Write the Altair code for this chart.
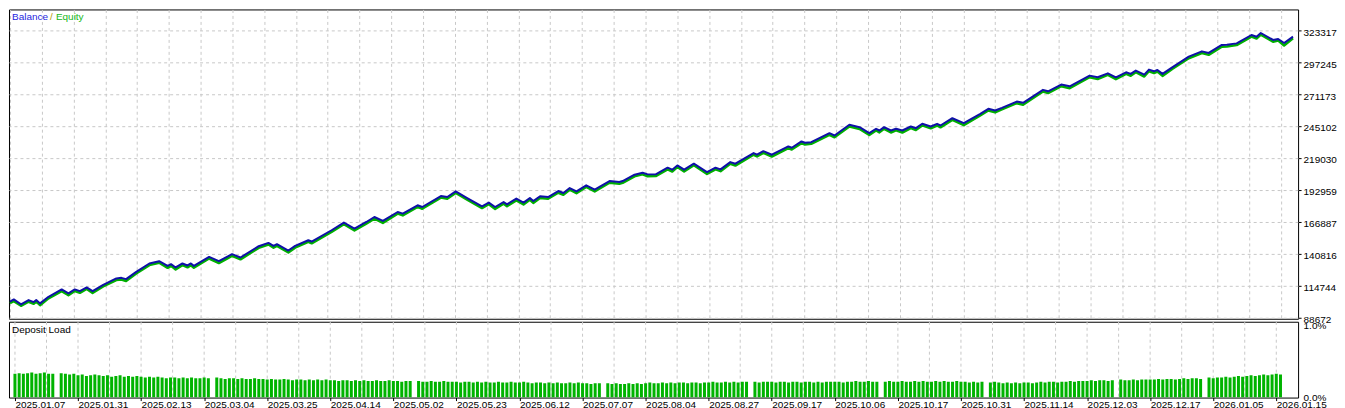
import altair as alt
import pandas as pd

# ---------------- data ----------------
deal = [
    0.0, 0.9, 2.6, 4.4, 5.6, 6.2, 7.1, 9.1, 12.2, 13.8,
    15.3, 16.5, 18.1, 19.5, 22.0, 25.1, 26.3, 27.4, 29.8, 32.9,
    35.2, 37.2, 38.0, 39.1, 40.7, 41.9, 42.7, 43.4, 47.0, 49.3,
    52.4, 54.4, 58.7, 61.0, 62.2, 63.0, 65.7, 67.3, 70.4, 71.2,
    75.9, 78.8, 81.3, 84.1, 86.0, 88.0, 91.5, 92.7, 96.2, 97.3,
    101.7, 103.2, 105.2, 107.9, 111.4, 113.0, 114.5, 116.5, 117.3, 119.5,
    121.2, 122.7, 123.5, 125.1, 127.0, 129.4, 130.6, 132.1, 133.7, 136.0,
    138.0, 141.5, 143.8, 144.6, 147.4, 149.3, 150.5, 152.4, 155.2, 156.3,
    157.5, 159.1, 161.4, 164.5, 166.5, 167.7, 170.0, 171.2, 175.5, 176.3,
    177.8, 179.8, 183.7, 184.5, 186.8, 187.6, 189.1, 191.5, 193.4, 194.6,
    198.1, 200.5, 202.8, 204.4, 205.2, 206.3, 207.9, 209.1, 210.6, 212.6,
    213.8, 215.3, 217.3, 218.8, 219.6, 222.4, 225.1, 229.0, 230.9, 232.5,
    234.1, 237.6, 239.1, 243.8, 245.0, 248.1, 250.1, 254.8, 256.7, 259.1,
    261.0, 263.4, 264.5, 265.7, 267.7, 268.8, 270.0, 270.8, 272.0, 274.3,
    278.2, 281.3, 282.9, 286.0, 287.2, 289.5, 293.0, 294.2, 295.2, 298.1,
    299.3, 300.7, 302.8,
]

balance = [
    102120, 103910, 99830, 103340, 101710, 103340, 100650, 106030, 112060, 108800,
    112060, 110670, 113680, 110670, 115800, 121020, 121510, 120450, 126390, 133240,
    135110, 131280, 132670, 129980, 133240, 131610, 133240, 131280, 138620, 135110,
    140820, 138130, 147330, 150020, 147580, 148960, 143830, 147580, 152220, 151160,
    160370, 166640, 161750, 167130, 171210, 167950, 175280, 173980, 180740, 179350,
    188320, 187500, 192140, 186690, 179920, 182940, 179350, 183430, 181550, 186200,
    182940, 186690, 184240, 188070, 187500, 192390, 190760, 194830, 192140, 197030,
    193530, 200530, 199720, 200530, 205750, 207380, 206000, 206000, 211450, 209820,
    213330, 209820, 214710, 207870, 211450, 210070, 216020, 214710, 223350, 222050,
    224980, 222050, 228810, 227750, 232880, 231820, 232310, 236380, 239640, 237770,
    246490, 244530, 239640, 243230, 241840, 244530, 241840, 243230, 241840, 245100,
    243720, 247300, 245100, 247300, 245920, 251860, 247790, 255450, 259520, 258140,
    260340, 265470, 264410, 275000, 273860, 279320, 277940, 286650, 285270, 288530,
    285270, 289340, 288040, 290730, 287470, 291540, 290160, 291300, 288040, 293420,
    302130, 306450, 305150, 311670, 311910, 312970, 319810, 318430, 321440, 315740,
    316550, 313300, 318430,
]

equity = [
    100900, 102500, 98700, 102000, 100300, 102100, 99200, 104800, 110700, 107300,
    110800, 109300, 112400, 109200, 114500, 119700, 120200, 118900, 125100, 131900,
    133800, 129700, 131300, 128400, 131900, 130100, 131800, 129800, 137300, 133600,
    139500, 136600, 146000, 148700, 146100, 147600, 142300, 146200, 150900, 149700,
    159000, 165300, 160200, 165800, 169900, 166400, 173900, 172500, 179400, 177900,
    187000, 186100, 190800, 185300, 178500, 181600, 177800, 182100, 180000, 184800,
    181400, 185300, 182700, 186700, 186100, 191000, 189300, 193500, 190600, 195700,
    192000, 199200, 198300, 199100, 204400, 206000, 204500, 204600, 210100, 208300,
    212000, 208300, 213400, 206400, 210100, 208600, 214700, 213200, 222000, 220600,
    223600, 220500, 227500, 226300, 231500, 230400, 231000, 235000, 238300, 236300,
    245100, 243100, 238200, 241900, 240300, 243200, 240200, 241900, 240100, 243800,
    242200, 246000, 243600, 245900, 244400, 250500, 246200, 254100, 258200, 256600,
    259000, 264100, 262900, 273700, 272400, 278000, 276400, 285300, 283800, 287200,
    283700, 288000, 286500, 289400, 285900, 290200, 288700, 290000, 286400, 292100,
    300800, 305100, 303600, 310300, 310500, 311600, 318500, 316900, 320100, 314300,
    315200, 311200, 317100,
]

# deposit load per deal, percent
deposit_load = [
    0.33, 0.34, 0.33, 0.34, 0.35, 0.33, 0.34, 0.35, 0.33, 0.33, 0.00, 0.34, 0.33, 0.32, 0.33,
    0.31, 0.32, 0.30, 0.31, 0.32, 0.31, 0.30, 0.31, 0.29, 0.30, 0.31, 0.29, 0.30, 0.29, 0.30,
    0.29, 0.28, 0.29, 0.28, 0.29, 0.28, 0.27, 0.28, 0.28, 0.27, 0.28, 0.27, 0.28, 0.27, 0.27,
    0.28, 0.27, 0.00, 0.28, 0.27, 0.26, 0.27, 0.27, 0.26, 0.27, 0.26, 0.26, 0.27, 0.26, 0.26,
    0.25, 0.26, 0.25, 0.25, 0.26, 0.25, 0.24, 0.25, 0.25, 0.24, 0.25, 0.24, 0.25, 0.24, 0.25,
    0.24, 0.24, 0.23, 0.24, 0.24, 0.23, 0.24, 0.23, 0.24, 0.23, 0.23, 0.24, 0.23, 0.23, 0.24,
    0.23, 0.23, 0.22, 0.23, 0.23, 0.00, 0.23, 0.22, 0.22, 0.23, 0.22, 0.22, 0.23, 0.22, 0.22,
    0.22, 0.21, 0.22, 0.22, 0.21, 0.22, 0.21, 0.22, 0.21, 0.21, 0.22, 0.21, 0.21, 0.22, 0.21,
    0.21, 0.22, 0.21, 0.20, 0.21, 0.21, 0.20, 0.21, 0.20, 0.21, 0.20, 0.20, 0.21, 0.20, 0.21,
    0.20, 0.20, 0.19, 0.20, 0.20, 0.00, 0.20, 0.19, 0.20, 0.19, 0.19, 0.20, 0.19, 0.20, 0.19,
    0.20, 0.21, 0.20, 0.20, 0.21, 0.20, 0.21, 0.20, 0.21, 0.21, 0.20, 0.21, 0.21, 0.20, 0.21,
    0.21, 0.22, 0.21, 0.21, 0.22, 0.21, 0.22, 0.21, 0.22, 0.22, 0.00, 0.22, 0.21, 0.22, 0.22,
    0.22, 0.21, 0.22, 0.22, 0.21, 0.22, 0.22, 0.21, 0.22, 0.22, 0.21, 0.22, 0.21, 0.22, 0.22,
    0.22, 0.22, 0.21, 0.22, 0.22, 0.23, 0.22, 0.22, 0.23, 0.22, 0.22, 0.00, 0.22, 0.23, 0.22,
    0.22, 0.23, 0.22, 0.22, 0.23, 0.22, 0.23, 0.22, 0.22, 0.23, 0.22, 0.23, 0.22, 0.22, 0.23,
    0.22, 0.22, 0.21, 0.22, 0.21, 0.22, 0.00, 0.21, 0.22, 0.21, 0.20, 0.21, 0.20, 0.21, 0.20,
    0.21, 0.21, 0.20, 0.21, 0.22, 0.21, 0.22, 0.22, 0.21, 0.22, 0.22, 0.23, 0.22, 0.23, 0.23,
    0.23, 0.24, 0.23, 0.24, 0.24, 0.23, 0.24, 0.00, 0.25, 0.24, 0.24, 0.25, 0.24, 0.25, 0.25,
    0.25, 0.25, 0.26, 0.25, 0.26, 0.26, 0.25, 0.26, 0.27, 0.26, 0.27, 0.27, 0.26, 0.00, 0.28,
    0.27, 0.28, 0.28, 0.29, 0.28, 0.29, 0.30, 0.29, 0.30, 0.31, 0.30, 0.31, 0.32, 0.31, 0.32,
    0.33, 0.32,
]

date_labels = [
    "2025.01.07", "2025.01.31", "2025.02.13", "2025.03.04", "2025.03.25",
    "2025.04.14", "2025.05.02", "2025.05.23", "2025.06.12", "2025.07.07",
    "2025.08.04", "2025.08.27", "2025.09.17", "2025.10.06", "2025.10.17",
    "2025.10.31", "2025.11.14", "2025.12.03", "2025.12.17", "2026.01.05",
    "2026.01.15",
]
date_tick_deals = [0, 15, 30, 45, 60, 75, 90, 105, 120, 135, 150,
                   165, 180, 195, 210, 225, 240, 255, 270, 285, 300]

y_ticks = [88672, 114744, 140816, 166887, 192959,
           219030, 245102, 271173, 297245, 323317]
load_ticks = [0.0, 1.0]

# ---------------- style ----------------
FONT = "Liberation Sans"
W = 1292
H_TOP = 310
H_BOT = 76
GRID_COLOR = "#c8c8c8"
GRID_DASH = [3, 3]
BLUE = "#1010a8"
GREEN = "#00b000"

grid_deals = [i * 7.5 for i in range(41)]

x_scale = alt.Scale(domain=[-0.23, 304], nice=False, zero=False)
y_scale = alt.Scale(domain=[88102, 340672], nice=False, zero=False)

df = pd.DataFrame({"deal": deal, "balance": balance, "equity": equity})

x_top_axis = alt.Axis(values=grid_deals, labels=False, ticks=False, domain=False,
                      grid=True, gridColor=GRID_COLOR, gridDash=GRID_DASH,
                      gridWidth=1, title=None)
y_top_axis = alt.Axis(orient="right", values=y_ticks, format="d",
                      grid=True, gridColor=GRID_COLOR, gridDash=GRID_DASH,
                      tickSize=3, tickColor="#000", labelPadding=2,
                      labelOffset=1.5, domain=False, title=None)

eq_line = alt.Chart(df).mark_line(
    color=GREEN, strokeWidth=2.5, strokeJoin="round", clip=True
).encode(
    x=alt.X("deal:Q", scale=x_scale, axis=x_top_axis),
    y=alt.Y("equity:Q", scale=y_scale, axis=y_top_axis),
)
bal_line = alt.Chart(df).mark_line(
    color=BLUE, strokeWidth=2, strokeJoin="round", clip=True
).encode(
    x=alt.X("deal:Q", scale=x_scale, axis=x_top_axis),
    y=alt.Y("balance:Q", scale=y_scale, axis=y_top_axis),
)


def label(text, color, x, y):
    return alt.Chart(pd.DataFrame({"t": [text]})).mark_text(
        align="left", baseline="top", font=FONT, fontSize=10, color=color
    ).encode(text="t:N", x=alt.value(x), y=alt.value(y))


top = alt.layer(
    eq_line, bal_line,
    label("Balance", "#1f1fe0", 3, 3),
    label("/", "#b89a00", 41, 3),
    label("Equity", "#18b818", 47, 3),
).properties(width=W, height=H_TOP)

# ---------------- bottom panel ----------------
bdf = pd.DataFrame({"deal": list(range(len(deposit_load))), "load": deposit_load})

label_expr = (
    "[" + ",".join("'%s'" % d for d in date_labels) + "]"
    "[indexof([" + ",".join(str(v) for v in date_tick_deals) + "], datum.value)]"
)

x_bot_axis = alt.Axis(values=date_tick_deals, labelExpr=label_expr,
                      labelAlign="left", tickSize=3, tickColor="#000",
                      domain=False, grid=False, labelPadding=-1,
                      labelOverlap=False, labelFlush=False, title=None)
y_bot_axis = alt.Axis(orient="right", values=load_ticks,
                      labelExpr="format(datum.value, '.1f') + '%'",
                      ticks=False, domain=False, grid=False,
                      labelPadding=5, title=None)
y_bot_scale = alt.Scale(domain=[0, 1.055], nice=False)

grid_bot = alt.Chart(pd.DataFrame({"deal": grid_deals})).mark_rule(
    color=GRID_COLOR, strokeDash=GRID_DASH, strokeWidth=1, clip=True
).encode(x=alt.X("deal:Q", scale=x_scale, axis=x_bot_axis))

bars = alt.Chart(bdf).mark_bar(color="#00b300", width=3, clip=True).encode(
    x=alt.X("deal:Q", scale=x_scale, axis=x_bot_axis),
    y=alt.Y("load:Q", scale=y_bot_scale, axis=y_bot_axis),
)

bottom = alt.layer(
    grid_bot, bars,
    label("Deposit Load", "#000000", 3, 3),
).properties(width=W, height=H_BOT)

chart = (
    alt.vconcat(top, bottom, spacing=3, bounds="flush")
    .properties(padding=0, background="white")
    .configure_view(stroke="#000000", strokeWidth=1)
    .configure_axis(labelFont=FONT, labelFontSize=10, labelColor="#000000")
)

chart.save("out.html", embed_options={"renderer": "svg", "actions": False})
